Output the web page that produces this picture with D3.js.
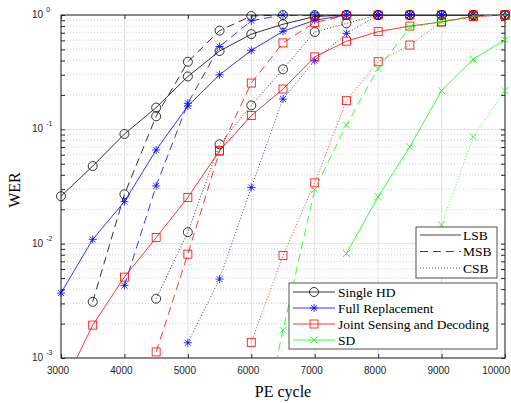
<!DOCTYPE html>
<html lang='en'>
  <head>
    <meta charset='utf-8'>
    <title>WER vs PE cycle</title>
    <script type='text/javascript' src='https://cdn.jsdelivr.net/npm/d3@7/dist/d3.min.js'></script>
    <style type='text/css'>
      body { margin: 0; background: white; }
      svg { background-color: white; display: block; }
      .tick-lbl { font-family: 'Liberation Sans', Arial, sans-serif; font-size: 10px; fill: #262626; }
      .serif { font-family: 'Liberation Serif', 'Times New Roman', serif; fill: #000; }
    </style>
  </head>
  <body>
    <div id='chart'></div>
    <script type='text/javascript'>

    // data
    var peCycles = [3000, 3500, 4000, 4500, 5000, 5500, 6000, 6500, 7000, 7500, 8000, 8500, 9000, 9500, 10000];

    var singleHdLsb = [0.026, 0.0477, 0.091, 0.155, 0.29, 0.484, 0.68, 0.83, 0.97, 1, 1, 1, 1, 1, 1];
    var singleHdMsb = [null, 0.0031, 0.027, 0.13, 0.39, 0.73, 0.98, 1, 1, 1, 1, 1, 1, 1, 1];
    var singleHdCsb = [null, null, null, 0.0033, 0.0126, 0.074, 0.162, 0.335, 0.71, 0.845, 1, 1, 1, 1, 1];

    var fullRepLsb = [0.0037, 0.0109, 0.0233, 0.066, 0.16, 0.30, 0.49, 0.72, 0.9, 1, 1, 1, 1, 1, 1];
    var fullRepMsb = [null, null, 0.0043, 0.032, 0.169, 0.53, 0.89, 1, 1, 1, 1, 1, 1, 1, 1];
    var fullRepCsb = [null, null, null, null, 0.00136, 0.0049, 0.031, 0.184, 0.40, 0.69, 1, 1, 1, 1, 1];

    var jointLsb = [0.00052, 0.00194, 0.0051, 0.0113, 0.0254, 0.065, 0.132, 0.225, 0.43, 0.59, 0.715, 0.80, 0.87, 0.97, 1];
    var jointMsb = [null, null, null, 0.00113, 0.0081, 0.0645, 0.254, 0.57, 0.86, 0.99, 1, 1, 1, 1, 1];
    var jointCsb = [null, null, null, null, null, null, 0.00137, 0.0079, 0.034, 0.178, 0.39, 0.546, 0.87, 0.97, 1];

    var sdLsb = [null, null, null, null, null, null, null, null, null, 0.0082, 0.0257, 0.0705, 0.218, 0.41, 0.605];
    var sdMsb = [null, null, null, null, null, null, 0.00009, 0.00175, 0.0298, 0.109, 0.34, 0.78, 0.88, 0.98, 1];
    var sdCsb = [null, null, null, null, null, null, null, null, null, null, null, null, 0.0146, 0.086, 0.218];

    var schemeNames = ['Single HD', 'Full Replacement', 'Joint Sensing and Decoding', 'SD'];
    var schemeColors = ['#000000', '#0000ff', '#ff0000', '#00ff00'];
    var schemeMarkers = ['circle', 'star', 'square', 'cross'];
    var bitNames = ['LSB', 'MSB', 'CSB'];
    var bitDashes = [null, '8,5', '1,2'];

    var xTicks = [3000, 4000, 5000, 6000, 7000, 8000, 9000, 10000];
    var yDecades = [-3, -2, -1, 0];

    var seriesData = [
      [singleHdLsb, singleHdMsb, singleHdCsb],
      [fullRepLsb, fullRepMsb, fullRepCsb],
      [jointLsb, jointMsb, jointCsb],
      [sdLsb, sdMsb, sdCsb]
    ];

    // Dimensions
    var margin = { top: 15, right: 6, bottom: 45, left: 61 },
        fullW = 511, fullH = 403,
        width = fullW - margin.left - margin.right,
        height = fullH - margin.top - margin.bottom;

    var svg = d3.select('#chart').append('svg')
        .attr('width', fullW)
        .attr('height', fullH);

    var g = svg.append('g')
        .attr('transform', 'translate(' + margin.left + ',' + margin.top + ')');

    var xScale = d3.scaleLinear().domain([3000, 10000]).range([0, width]);
    var yScale = d3.scaleLog().domain([1e-3, 1]).range([height, 0]);

    g.append('clipPath').attr('id', 'clip')
      .append('rect').attr('width', width).attr('height', height);

    // grid
    var minorVals = [];
    yDecades.slice(0, 3).forEach(function(e) {
      for (var k = 2; k <= 9; k++) minorVals.push(k * Math.pow(10, e));
    });
    g.append('g').selectAll('line').data(minorVals).enter().append('line')
      .attr('x1', 0).attr('x2', width)
      .attr('y1', function(d) { return yScale(d); })
      .attr('y2', function(d) { return yScale(d); })
      .attr('stroke', '#c8c8c8').attr('stroke-width', 0.8)
      .attr('stroke-dasharray', '1,2');
    g.append('g').selectAll('line').data(yDecades).enter().append('line')
      .attr('x1', 0).attr('x2', width)
      .attr('y1', function(d) { return yScale(Math.pow(10, d)); })
      .attr('y2', function(d) { return yScale(Math.pow(10, d)); })
      .attr('stroke', '#e0e0e0').attr('stroke-width', 1);
    g.append('g').selectAll('line').data(xTicks).enter().append('line')
      .attr('y1', 0).attr('y2', height)
      .attr('x1', function(d) { return xScale(d); })
      .attr('x2', function(d) { return xScale(d); })
      .attr('stroke', '#e0e0e0').attr('stroke-width', 1);

    // axes (ticks inward, box around)
    var axisCol = '#262626';
    g.append('g').attr('transform', 'translate(0,' + height + ')')
      .call(d3.axisBottom(xScale).tickValues(xTicks).tickSize(-4).tickFormat(''))
      .call(function(a) { a.select('.domain').remove(); a.selectAll('line').attr('stroke', axisCol); });
    g.append('g')
      .call(d3.axisTop(xScale).tickValues(xTicks).tickSize(-4).tickFormat(''))
      .call(function(a) { a.select('.domain').remove(); a.selectAll('line').attr('stroke', axisCol); });
    var allY = minorVals.concat(yDecades.map(function(e) { return Math.pow(10, e); }));
    g.append('g')
      .call(d3.axisLeft(yScale).tickValues(allY).tickSize(-4).tickFormat(''))
      .call(function(a) { a.select('.domain').remove(); a.selectAll('line').attr('stroke', axisCol); });
    g.append('g').attr('transform', 'translate(' + width + ',0)')
      .call(d3.axisRight(yScale).tickValues(allY).tickSize(-4).tickFormat(''))
      .call(function(a) { a.select('.domain').remove(); a.selectAll('line').attr('stroke', axisCol); });
    g.append('rect').attr('width', width).attr('height', height)
      .attr('fill', 'none').attr('stroke', axisCol).attr('stroke-width', 1);

    // tick labels
    g.append('g').selectAll('text').data(xTicks).enter().append('text')
      .attr('class', 'tick-lbl')
      .attr('x', function(d, i) { return i === xTicks.length - 1 ? width + 5 : xScale(d) - 3; })
      .attr('y', height + 16)
      .attr('text-anchor', function(d, i) { return i === xTicks.length - 1 ? 'end' : 'middle'; })
      .text(function(d) { return d; });
    var yl = g.append('g').selectAll('text').data(yDecades).enter().append('text')
      .attr('class', 'tick-lbl')
      .attr('x', -29)
      .attr('y', function(d) { return yScale(Math.pow(10, d)) + 3; });
    yl.append('tspan').text('10');
    yl.append('tspan').attr('dx', 3).attr('dy', -6).style('font-size', '7px')
      .text(function(d) { return String(d); });

    // axis titles
    svg.append('text').attr('class', 'serif')
      .attr('transform', 'translate(20,190) rotate(-90)')
      .attr('text-anchor', 'middle')
      .style('font-size', '16px')
      .text('WER');
    svg.append('text').attr('class', 'serif')
      .attr('x', 283).attr('y', 397)
      .attr('text-anchor', 'middle')
      .style('font-size', '16px')
      .text('PE cycle');

    // marker drawing
    function drawMarker(sel, type, color) {
      if (type === 'circle') {
        sel.append('circle').attr('r', 4.5).attr('fill', 'none')
          .attr('stroke', color).attr('stroke-width', 0.8);
      } else if (type === 'square') {
        sel.append('rect').attr('x', -4).attr('y', -4).attr('width', 8).attr('height', 8)
          .attr('fill', 'none').attr('stroke', color).attr('stroke-width', 0.8);
      } else if (type === 'star') {
        sel.append('path').attr('d', 'M-4,0H4M0,-4V4M-3,-3L3,3M-3,3L3,-3')
          .attr('fill', 'none').attr('stroke', color).attr('stroke-width', 0.8);
      } else if (type === 'cross') {
        sel.append('path').attr('d', 'M-3.5,-3.5L3.5,3.5M-3.5,3.5L3.5,-3.5')
          .attr('fill', 'none').attr('stroke', color).attr('stroke-width', 0.8);
      }
    }

    var line = d3.line()
      .defined(function(d) { return d.v != null; })
      .x(function(d) { return xScale(d.x); })
      .y(function(d) { return yScale(d.v); });

    var plot = g.append('g');
    seriesData.forEach(function(group, si) {
      group.forEach(function(vals, bi) {
        var pts = peCycles.map(function(x, i) { return { x: x, v: vals[i] }; });
        plot.append('path').datum(pts)
          .attr('clip-path', 'url(#clip)')
          .attr('d', line)
          .attr('fill', 'none')
          .attr('stroke', schemeColors[si])
          .attr('stroke-width', 0.8)
          .attr('stroke-dasharray', bitDashes[bi]);
        var shown = pts.filter(function(d) { return d.v != null && d.v >= 1e-3; });
        plot.append('g').selectAll('g').data(shown).enter().append('g')
          .attr('transform', function(d) { return 'translate(' + xScale(d.x) + ',' + yScale(d.v) + ')'; })
          .each(function() { drawMarker(d3.select(this), schemeMarkers[si], schemeColors[si]); });
      });
    });

    // legend for bit types
    var lg1 = svg.append('g').attr('transform', 'translate(416,227)');
    lg1.append('rect').attr('width', 81).attr('height', 51)
      .attr('fill', 'white').attr('stroke', '#262626').attr('stroke-width', 0.8);
    bitNames.forEach(function(b, i) {
      var yy = 8 + i * 16.5;
      lg1.append('line').attr('x1', 4).attr('x2', 45).attr('y1', yy).attr('y2', yy)
        .attr('stroke', '#444').attr('stroke-width', 1)
        .attr('stroke-dasharray', bitDashes[i]);
      lg1.append('text').attr('class', 'serif').attr('x', 47).attr('y', yy + 4.5)
        .style('font-size', '13.5px').text(b);
    });

    // legend for schemes
    var lg2 = svg.append('g').attr('transform', 'translate(289,283)');
    lg2.append('rect').attr('width', 208).attr('height', 66)
      .attr('fill', 'white').attr('stroke', '#262626').attr('stroke-width', 0.8);
    schemeNames.forEach(function(n, i) {
      var yy = 9 + i * 16;
      lg2.append('line').attr('x1', 4).attr('x2', 46).attr('y1', yy).attr('y2', yy)
        .attr('stroke', schemeColors[i]).attr('stroke-width', 0.8);
      var m = lg2.append('g').attr('transform', 'translate(25,' + yy + ')');
      drawMarker(m, schemeMarkers[i], schemeColors[i]);
      lg2.append('text').attr('class', 'serif').attr('x', 49).attr('y', yy + 4.5)
        .style('font-size', '13.5px').text(n);
    });

    </script>
  </body>
</html>
